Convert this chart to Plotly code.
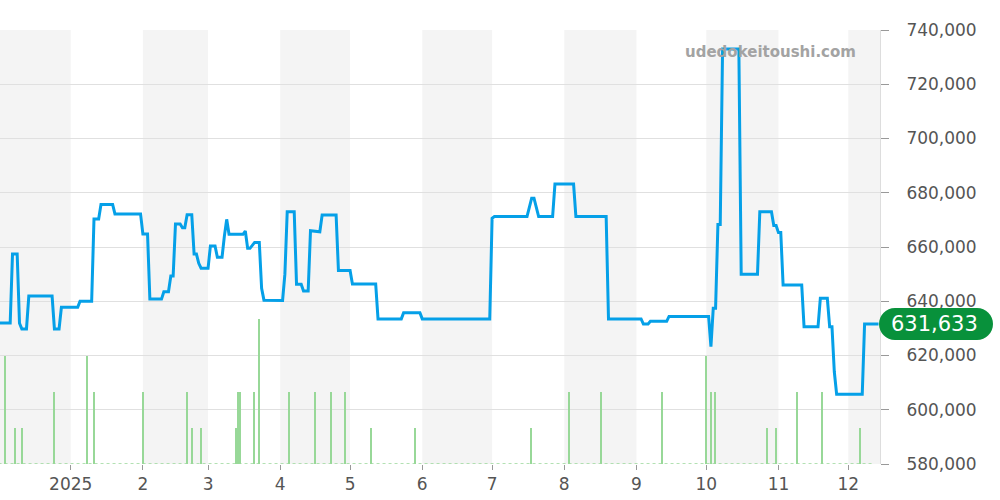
import plotly.graph_objects as go

# ---- data ----
price_dates = [
    "2024-12-01", "2024-12-06", "2024-12-07", "2024-12-09", "2024-12-10", "2024-12-11",
    "2024-12-13", "2024-12-14", "2024-12-24", "2024-12-25", "2024-12-27", "2024-12-28",
    "2025-01-04", "2025-01-05", "2025-01-10", "2025-01-11", "2025-01-13", "2025-01-14",
    "2025-01-19", "2025-01-20", "2025-01-31", "2025-02-01", "2025-02-03", "2025-02-04",
    "2025-02-09", "2025-02-10", "2025-02-12", "2025-02-13", "2025-02-14", "2025-02-15",
    "2025-02-17", "2025-02-18", "2025-02-19", "2025-02-20", "2025-02-22", "2025-02-23",
    "2025-02-24", "2025-02-25", "2025-02-26", "2025-03-01", "2025-03-02", "2025-03-04",
    "2025-03-05", "2025-03-07", "2025-03-08", "2025-03-09", "2025-03-10", "2025-03-16",
    "2025-03-17", "2025-03-18", "2025-03-19", "2025-03-21", "2025-03-23", "2025-03-24",
    "2025-03-25", "2025-04-02", "2025-04-03", "2025-04-04", "2025-04-07", "2025-04-08",
    "2025-04-10", "2025-04-11", "2025-04-13", "2025-04-14", "2025-04-18", "2025-04-19",
    "2025-04-25", "2025-04-26", "2025-05-01", "2025-05-02", "2025-05-12", "2025-05-13",
    "2025-05-23", "2025-05-24", "2025-05-31", "2025-06-01", "2025-06-30", "2025-07-01",
    "2025-07-02", "2025-07-16", "2025-07-18", "2025-07-19", "2025-07-21", "2025-07-27",
    "2025-07-28", "2025-08-05", "2025-08-06", "2025-08-19", "2025-08-20", "2025-09-03",
    "2025-09-04", "2025-09-06", "2025-09-07", "2025-09-14", "2025-09-15", "2025-10-02",
    "2025-10-03", "2025-10-04", "2025-10-05", "2025-10-06", "2025-10-07", "2025-10-08",
    "2025-10-15", "2025-10-16", "2025-10-23", "2025-10-24", "2025-10-29", "2025-10-30",
    "2025-10-31", "2025-11-01", "2025-11-02", "2025-11-03", "2025-11-11", "2025-11-12",
    "2025-11-18", "2025-11-19", "2025-11-22", "2025-11-23", "2025-11-24", "2025-11-25",
    "2025-11-26", "2025-12-07", "2025-12-08", "2025-12-14",
]
price_values = [
    632000, 632000, 657400, 657400, 631900, 629800,
    629800, 641900, 641900, 629800, 629800, 637800,
    637800, 640000, 640000, 670300, 670300, 675700,
    675700, 672200, 672200, 664800, 664800, 640800,
    640800, 643500, 643500, 649300, 649300, 668500,
    668500, 667100, 667100, 671900, 671900, 657400,
    657400, 654000, 652200, 652200, 660400, 660400,
    656200, 656200, 664000, 670200, 664700, 664700,
    665900, 659500, 659500, 661700, 661700, 644800,
    640400, 640300, 650000, 673000, 673000, 646300,
    646300, 643800, 643800, 666000, 665600, 671800,
    671800, 651300, 651300, 646400, 646400, 633500,
    633500, 635800, 635800, 633500, 633500, 670600,
    671200, 671200, 678000, 678000, 671200, 671200,
    683200, 683200, 671200, 671200, 633500, 633500,
    631600, 631600, 632600, 632600, 634400, 634400,
    623300, 637400, 637400, 668300, 668300, 733000,
    733000, 650000, 650000, 673000, 673000, 667900,
    667900, 665300, 665300, 646000, 646000, 630600,
    630600, 641100, 641100, 630600, 630600, 614000,
    605700, 605700, 631633, 631633,
]

volume_dates = [
    "2024-12-04", "2024-12-08", "2024-12-11", "2024-12-25", "2025-01-08", "2025-01-11",
    "2025-02-01", "2025-02-20", "2025-02-22", "2025-02-26", "2025-03-13", "2025-03-14",
    "2025-03-15", "2025-03-21", "2025-03-23", "2025-04-05", "2025-04-16", "2025-04-23",
    "2025-04-29", "2025-05-10", "2025-05-29", "2025-07-18", "2025-08-03", "2025-08-17",
    "2025-09-12", "2025-10-01", "2025-10-03", "2025-10-05", "2025-10-27", "2025-10-31",
    "2025-11-09", "2025-11-20", "2025-12-06",
]
volume_values = [
    3, 1, 1, 2, 3, 2,
    2, 2, 1, 1, 1, 2,
    2, 2, 4, 2, 2, 2,
    2, 1, 1, 1, 2, 2,
    2, 3, 2, 2, 1, 1,
    2, 2, 1,
]

baseline_dates = ["2024-12-01", "2025-12-11"]
baseline_values = [0, 0]

band_starts = ["2024-12-01 15:00", "2025-02-01", "2025-04-01", "2025-06-01",
               "2025-08-01", "2025-10-01", "2025-12-01"]
band_ends = ["2025-01-01", "2025-03-01", "2025-05-01", "2025-07-01",
             "2025-09-01", "2025-11-01", "2025-12-14 15:00"]

tick_dates = ["2025-01-01", "2025-02-01", "2025-03-01", "2025-04-01", "2025-05-01",
              "2025-06-01", "2025-07-01", "2025-08-01", "2025-09-01", "2025-10-01",
              "2025-11-01", "2025-12-01"]
tick_labels = ["2025", "2", "3", "4", "5", "6", "7", "8", "9", "10", "11", "12"]

price_ticks = [580000, 600000, 620000, 640000, 660000, 680000, 700000, 720000, 740000]

x_range = ["2024-12-01 15:00", "2025-12-14 15:00"]

# ---- figure ----
fig = go.Figure()

fig.add_trace(go.Scatter(
    x=baseline_dates, y=baseline_values, yaxis="y2", mode="lines",
    line=dict(color="#9ad89a", width=1.5, dash="dot"), hoverinfo="skip",
    showlegend=False,
))
fig.add_trace(go.Bar(
    x=volume_dates, y=volume_values, yaxis="y2",
    width=0.6 * 86400000, marker=dict(color="#98d898", line=dict(width=0)),
    showlegend=False,
))
fig.add_trace(go.Scatter(
    x=price_dates, y=price_values, mode="lines",
    line=dict(color="#05a0e8", width=3), showlegend=False,
))

shapes = []
for s, e in zip(band_starts, band_ends):
    shapes.append(dict(type="rect", xref="x", yref="paper", x0=s, x1=e, y0=0, y1=1,
                       fillcolor="#f4f4f4", line=dict(width=0), layer="below"))

last_val = price_values[-1]
r = 16
k = 8.84
badge_path = (f"M 15,-{r} L 97,-{r} C {97+k},-{r} 113,-{k} 113,0 "
              f"C 113,{k} {97+k},{r} 97,{r} L 15,{r} "
              f"C {15-k},{r} -1,{k} -1,0 C -1,-{k} {15-k},-{r} 15,-{r} Z")
shapes.append(dict(type="path", xref="paper", yref="y", xsizemode="pixel",
                   ysizemode="pixel", xanchor=1, yanchor=last_val, path=badge_path,
                   fillcolor="#08913b", line=dict(width=0), layer="above"))

fig.update_layout(
    width=1000, height=500,
    margin=dict(l=0, r=120, t=30, b=36),
    paper_bgcolor="white", plot_bgcolor="white",
    font=dict(family="DejaVu Sans", color="#555555"),
    shapes=shapes,
    bargap=0,
    xaxis=dict(
        type="date", range=x_range, tickvals=tick_dates, ticktext=tick_labels,
        showgrid=False, zeroline=False, ticks="outside", ticklen=5,
        tickcolor="#999999", tickfont=dict(size=17, color="#555555"),
        showline=False,
    ),
    yaxis=dict(
        side="right", range=[580000, 740000], tickvals=price_ticks,
        tickformat=",", showgrid=True, gridcolor="#e0e0e0", gridwidth=1,
        zeroline=False, ticks="outside", ticklen=8, tickcolor="#999999",
        tickfont=dict(size=17, color="#555555"), showline=True,
        linecolor="#dddddd", linewidth=1, ticklabelstandoff=14,
    ),
    yaxis2=dict(
        overlaying="y", range=[0, 12], visible=False, showgrid=False,
    ),
    annotations=[
        dict(text="<b>udedokeitoushi.com</b>", xref="paper", yref="paper",
             x=858 / 880, y=1 - 22 / 434, xanchor="right", yanchor="middle",
             showarrow=False, font=dict(size=15, color="#a3a3a3",
                                        family="DejaVu Sans")),
        dict(text=f"{last_val:,}", xref="paper", yref="y", x=1, y=last_val,
             xanchor="center", yanchor="middle", xshift=54, showarrow=False,
             font=dict(size=21, color="white", family="DejaVu Sans")),
    ],
)

fig.write_html(
    "out.html",
    config={"displayModeBar": False},
    post_script="document.body.style.margin='0';document.body.style.padding='0';",
)
